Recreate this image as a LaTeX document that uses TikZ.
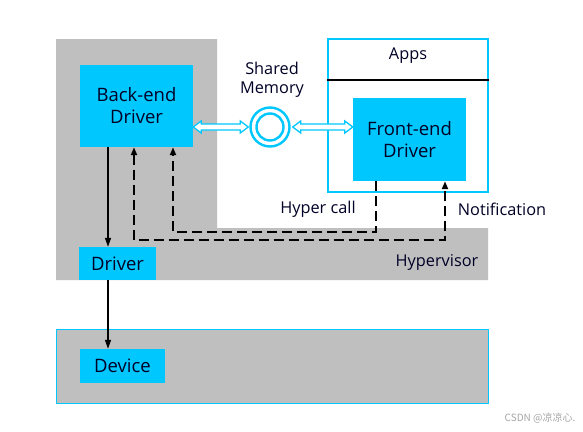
\documentclass[tikz,border=0pt]{standalone}
\usepackage{fontspec}
\setmainfont{Open Sans}
\newfontfamily\cjk{Noto Sans CJK SC}
\usetikzlibrary{arrows.meta,calc}
\definecolor{cy}{RGB}{0,200,255}
\definecolor{gr}{RGB}{191,191,191}
\tikzset{dtip/.tip={Triangle[length=8pt,width=6pt]}}
\begin{document}
\begin{tikzpicture}[x=1pt,y=-1pt,
  box/.style={fill=cy, inner sep=0pt, font=\fontsize{18.5}{22}\selectfont, align=center, text=black!85!blue},
  lbl/.style={font=\fontsize{16.3}{19}\selectfont, align=center, inner sep=0pt, text=black!85!blue},
  solidarr/.style={line width=1.4pt, -{Triangle[length=9pt,width=6pt]}},
  dasharr/.style={line width=2pt, dash pattern=on 10pt off 5pt},
  hollow/.style={draw=cy, line width=1.3pt, fill=white, line join=miter}]
\useasboundingbox (0,0) rectangle (583,431);
\fill[white] (0,0) rectangle (583,431);
% gray regions
\fill[gr] (56,39) -- (217,39) -- (217,228) -- (488,228) -- (488,280) -- (56,280) -- cycle;
\draw[cy, fill=gr, line width=0.8pt] (56,329) rectangle (488,403);
% apps box
\node[draw=cy, line width=1.8pt, minimum width=160pt, minimum height=153pt, inner sep=0pt] (apps) at (408,115.5) {};
\draw[black, line width=1.8pt] (apps.west |- 0,80) coordinate (dl) -- (apps.east |- 0,80) coordinate (dr);
\node[lbl] (appst) at (408,56) {Apps};
% boxes
\node[box, minimum width=113pt, minimum height=82pt] (be) at (136.5,106) {Back-end\\Driver};
\node[box, minimum width=77pt, minimum height=33pt] (drv) at (117.5,263.5) {Driver};
\node[box, minimum width=85pt, minimum height=34pt] (dev) at (122.5,366) {Device};
\node[box, minimum width=113pt, minimum height=83pt] (fe) at (409.5,139.5) {Front-end\\Driver};
% shared memory
\node[circle, draw=cy, line width=2.4pt, minimum size=39pt, inner sep=0pt] (sm) at (270,127) {};
\node[circle, draw=cy, line width=2.4pt, minimum size=27pt, inner sep=0pt] (smi) at (270,127) {};
\node[lbl] (smt) at (272,80) {Shared\\Memory};
% hollow double arrows
\path[hollow] let \p1=(be.east), \p2=(sm.west) in
  (\x1,\y2) -- (\x1+8pt,\y2+6pt) -- (\x1+8pt,\y2+3pt) -- (\x2-9pt,\y2+3pt) -- (\x2-9pt,\y2+6pt) -- (\x2-1pt,\y2)
  -- (\x2-9pt,\y2-6pt) -- (\x2-9pt,\y2-3pt) -- (\x1+8pt,\y2-3pt) -- (\x1+8pt,\y2-6pt) -- cycle;
\path[hollow] let \p1=(sm.east), \p2=(fe.west) in
  (\x1+2pt,\y1) -- (\x1+10pt,\y1+6pt) -- (\x1+10pt,\y1+3pt) -- (\x2-8pt,\y1+3pt) -- (\x2-8pt,\y1+6pt) -- (\x2,\y1)
  -- (\x2-8pt,\y1-6pt) -- (\x2-8pt,\y1-3pt) -- (\x1+10pt,\y1-3pt) -- (\x1+10pt,\y1-6pt) -- cycle;
% solid arrows
\draw[solidarr] (be.south -| 108,0) -- (drv.north -| 108,0);
\draw[solidarr] (drv.south -| 108,0) -- (dev.north -| 108,0);
% dashed hyper call
\draw[dasharr, -{dtip}] (fe.south -| 376,0) -- (376,232) -- (173,232) -- (be.south -| 173,0);
% dashed notification
\draw[dasharr, {dtip}-{dtip}] (be.south -| 134,0) -- (134,240) -- (445,240) -- (fe.south -| 445,0);
% labels
\node[lbl] (hc) at (318,209) {Hyper call};
\node[lbl] (nt) at (502,209) {Notification};
\node[lbl] (hv) at (437,262) {Hypervisor};
\node[font=\cjk\fontsize{10}{12}\selectfont, text=black!35, inner sep=0pt] (wm) at (540,418) {CSDN @凉凉心.};
\end{tikzpicture}
\end{document}
